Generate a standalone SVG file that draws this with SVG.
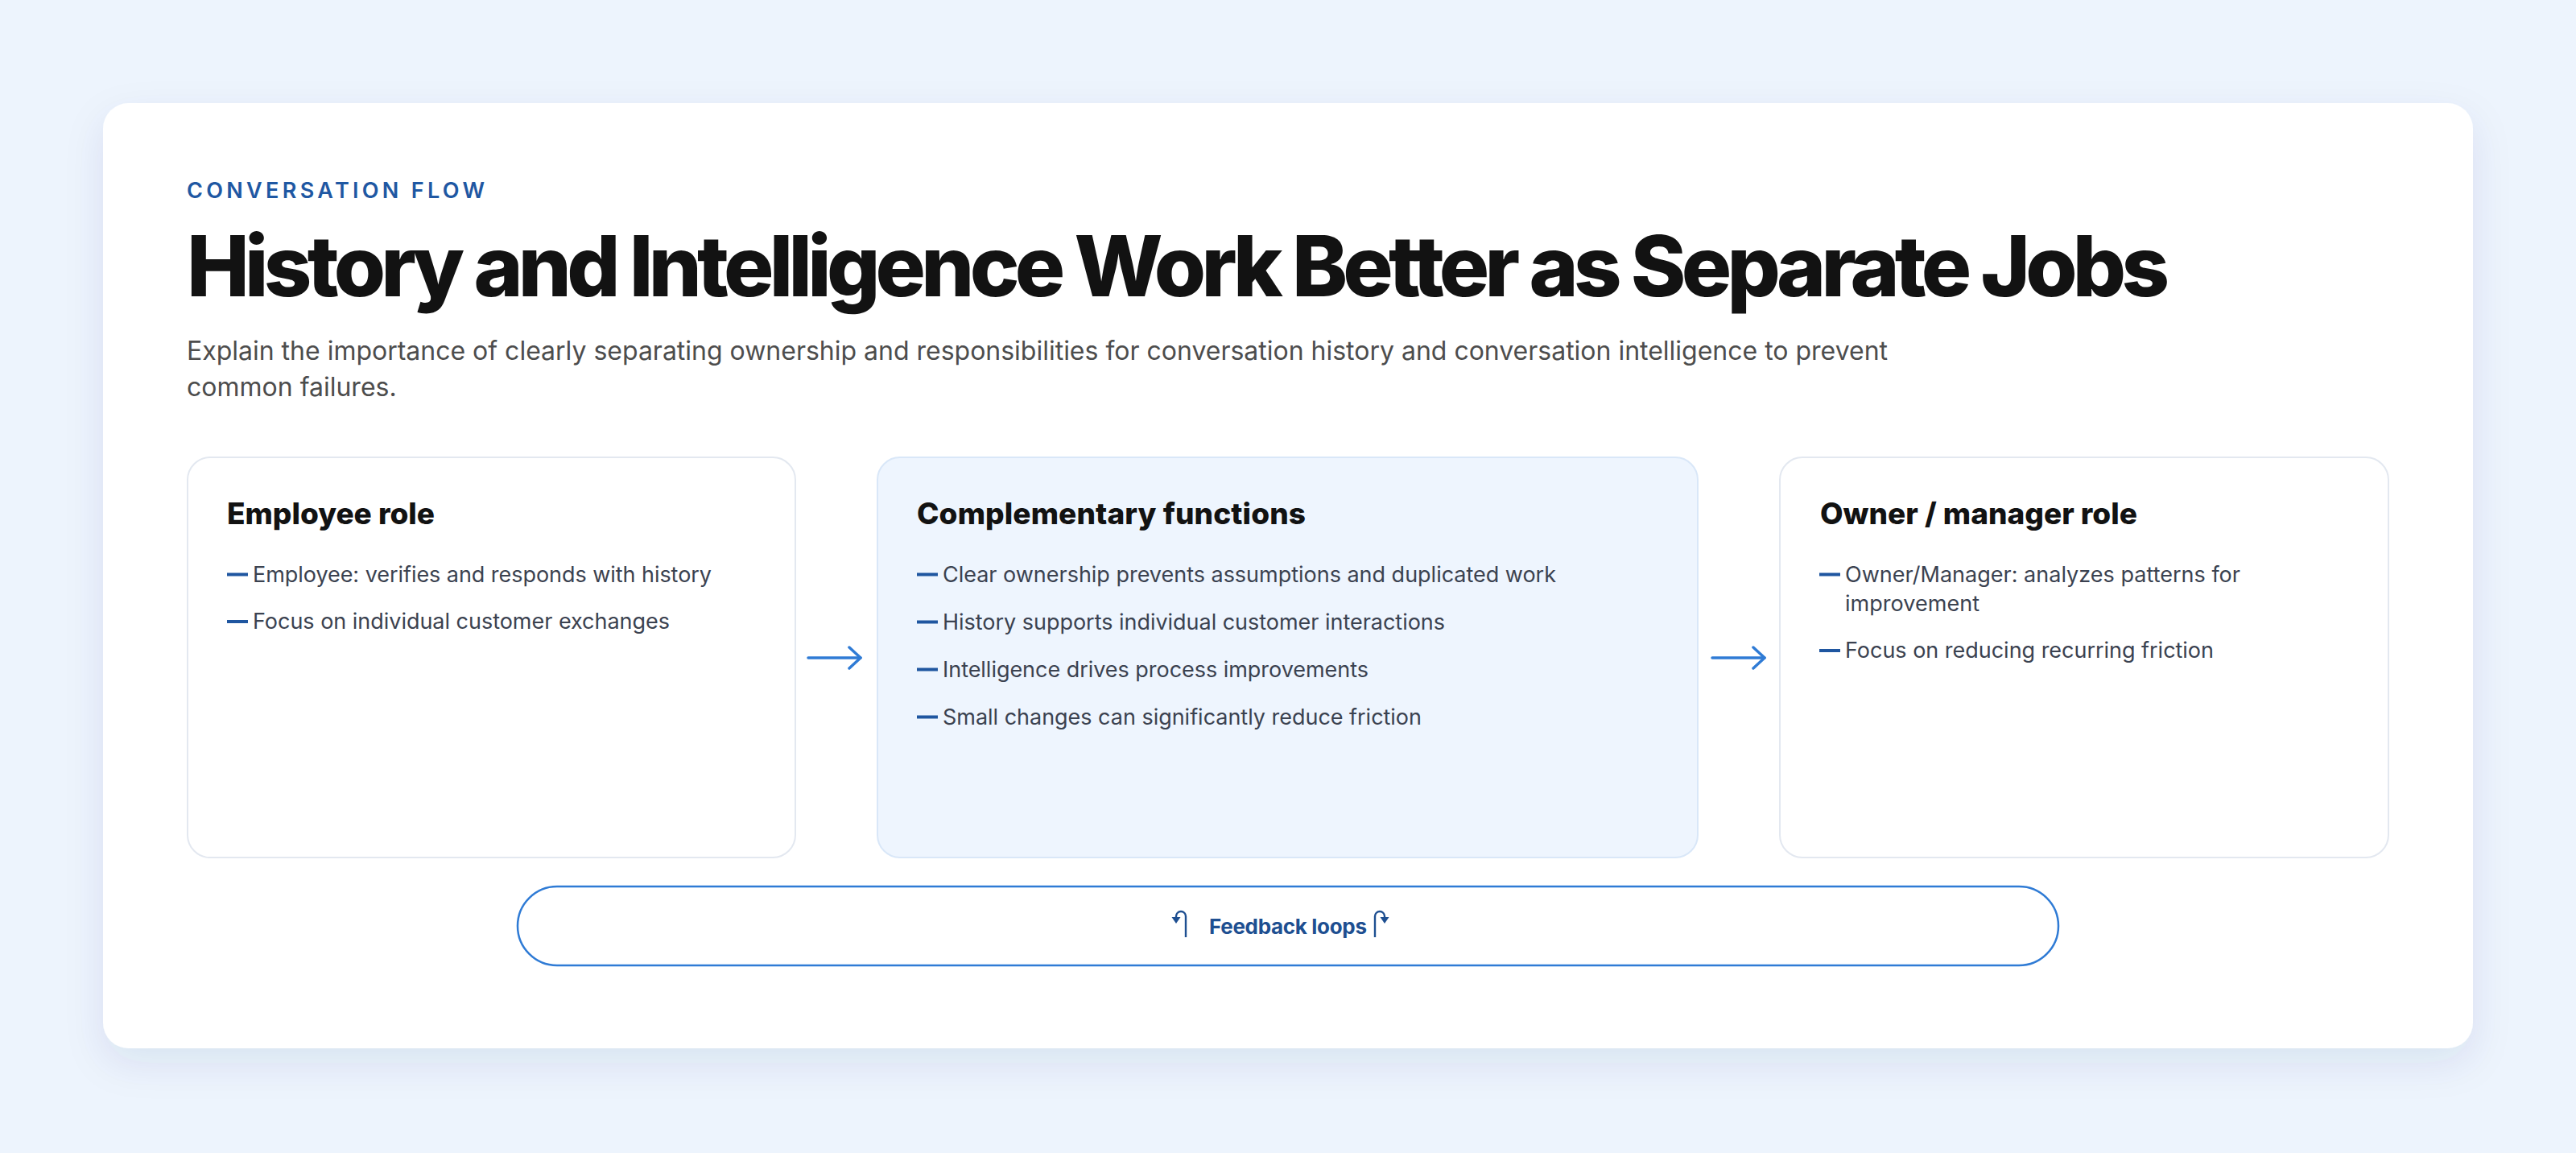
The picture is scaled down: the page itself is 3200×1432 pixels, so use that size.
<svg xmlns="http://www.w3.org/2000/svg" width="3200" height="1432" viewBox="0 0 3200 1432">
  <defs>
    <filter id="shadow" x="-10%" y="-10%" width="120%" height="130%">
      <feDropShadow dx="0" dy="18" stdDeviation="24" flood-color="#1e3a6e" flood-opacity="0.09"/>
    </filter>
    <marker id="chev" viewBox="0 0 20 30" refX="17" refY="15" markerWidth="20" markerHeight="30" markerUnits="userSpaceOnUse" orient="auto">
      <path d="M3 2 L17 15 L3 28" fill="none" stroke="#2f7bd5" stroke-width="3.5" stroke-linecap="round" stroke-linejoin="round"/>
    </marker>
  </defs>
  <style>
    .eyebrow { font-family: Inter, "Liberation Sans", sans-serif; font-size: 27px; font-weight: 600; fill: #1f58a3; }
    .title { font-family: Inter, "Liberation Sans", sans-serif; font-size: 104px; font-weight: 800; fill: #121212; }
    .sub { font-family: Inter, "Liberation Sans", sans-serif; font-size: 32px; font-weight: 400; fill: #4d4d4d; }
    .card { fill: #ffffff; stroke: #e3e8f0; stroke-width: 2; }
    .card.hl { fill: #eef5fe; stroke: #d9e7f8; }
    .ctitle { font-family: Inter, "Liberation Sans", sans-serif; font-size: 37px; font-weight: 800; fill: #121212; }
    .item { font-family: Inter, "Liberation Sans", sans-serif; font-size: 27px; font-weight: 400; fill: #3b4250; }
    .dash { stroke: #1f56a0; stroke-width: 4; }
    .flow { stroke: #2f7bd5; stroke-width: 3.5; stroke-linecap: round; fill: none; }
    .pill { fill: #ffffff; stroke: #2f7bd5; stroke-width: 2.5; }
    .fb { font-family: Inter, "Liberation Sans", sans-serif; font-size: 26px; font-weight: 700; fill: #1e4f91; }
    .icon { stroke: #1e4f91; stroke-width: 2.4; fill: none; }
    .iconhead { fill: #1e4f91; }
  </style>
  <rect x="0" y="0" width="3200" height="1432" fill="#edf4fd"/>
  <rect x="128" y="128" width="2944" height="1174" rx="32" ry="32" fill="#ffffff" filter="url(#shadow)"/>

  <g id="header">
    <text class="eyebrow" x="232" y="246" textLength="370" lengthAdjust="spacing">CONVERSATION FLOW</text>
    <text class="title" x="232" y="368" textLength="2463" lengthAdjust="spacing">History and Intelligence Work Better as Separate Jobs</text>
    <text class="sub" x="232" y="447" textLength="2113" lengthAdjust="spacing">Explain the importance of clearly separating ownership and responsibilities for conversation history and conversation intelligence to prevent</text>
    <text class="sub" x="232" y="492">common failures.</text>
  </g>

  <g id="connectors">
    <line class="flow" x1="1004" y1="817" x2="1069" y2="817" marker-end="url(#chev)"/>
    <line class="flow" x1="2127" y1="817" x2="2192" y2="817" marker-end="url(#chev)"/>
  </g>

  <g id="employee-role">
    <rect class="card" x="233" y="568" width="755" height="497" rx="28" ry="28"/>
    <text class="ctitle" x="282" y="651" textLength="258" lengthAdjust="spacing">Employee role</text>
    <line class="dash" x1="282" y1="713.5" x2="308" y2="713.5"/>
    <text class="item" x="314" y="722.5" textLength="570" lengthAdjust="spacing">Employee: verifies and responds with history</text>
    <line class="dash" x1="282" y1="772" x2="308" y2="772"/>
    <text class="item" x="314" y="781" textLength="518" lengthAdjust="spacing">Focus on individual customer exchanges</text>
  </g>

  <g id="complementary-functions">
    <rect class="card hl" x="1090" y="568" width="1019" height="497" rx="28" ry="28"/>
    <text class="ctitle" x="1139" y="651" textLength="483" lengthAdjust="spacing">Complementary functions</text>
    <line class="dash" x1="1139" y1="713.5" x2="1165" y2="713.5"/>
    <text class="item" x="1171" y="722.5" textLength="762" lengthAdjust="spacing">Clear ownership prevents assumptions and duplicated work</text>
    <line class="dash" x1="1139" y1="772.5" x2="1165" y2="772.5"/>
    <text class="item" x="1171" y="781.5" textLength="624" lengthAdjust="spacing">History supports individual customer interactions</text>
    <line class="dash" x1="1139" y1="831.5" x2="1165" y2="831.5"/>
    <text class="item" x="1171" y="840.5" textLength="529" lengthAdjust="spacing">Intelligence drives process improvements</text>
    <line class="dash" x1="1139" y1="890.5" x2="1165" y2="890.5"/>
    <text class="item" x="1171" y="899.5" textLength="595" lengthAdjust="spacing">Small changes can significantly reduce friction</text>
  </g>

  <g id="owner-manager-role">
    <rect class="card" x="2211" y="568" width="756" height="497" rx="28" ry="28"/>
    <text class="ctitle" x="2261" y="651" textLength="394" lengthAdjust="spacing">Owner / manager role</text>
    <line class="dash" x1="2260" y1="713.5" x2="2286" y2="713.5"/>
    <text class="item" x="2292" y="722.5" textLength="491" lengthAdjust="spacing">Owner/Manager: analyzes patterns for</text>
    <text class="item" x="2292" y="758.5" textLength="167" lengthAdjust="spacing">improvement</text>
    <line class="dash" x1="2260" y1="808" x2="2286" y2="808"/>
    <text class="item" x="2292" y="817" textLength="458" lengthAdjust="spacing">Focus on reducing recurring friction</text>
  </g>

  <g id="feedback-loops">
    <rect class="pill" x="643" y="1101" width="1914" height="98" rx="49" ry="49"/>
    <path class="icon" d="M1473 1164 V1138 A6 6 0 0 0 1461 1138 V1140"/>
    <polygon class="iconhead" points="1455.5,1139 1466.5,1139 1461,1147"/>
    <text class="fb" x="1502" y="1160" textLength="196" lengthAdjust="spacing">Feedback loops</text>
    <path class="icon" d="M1708 1164 V1138 A6 6 0 0 1 1720 1138 V1140"/>
    <polygon class="iconhead" points="1714.5,1139 1725.5,1139 1720,1147"/>
  </g>
</svg>
